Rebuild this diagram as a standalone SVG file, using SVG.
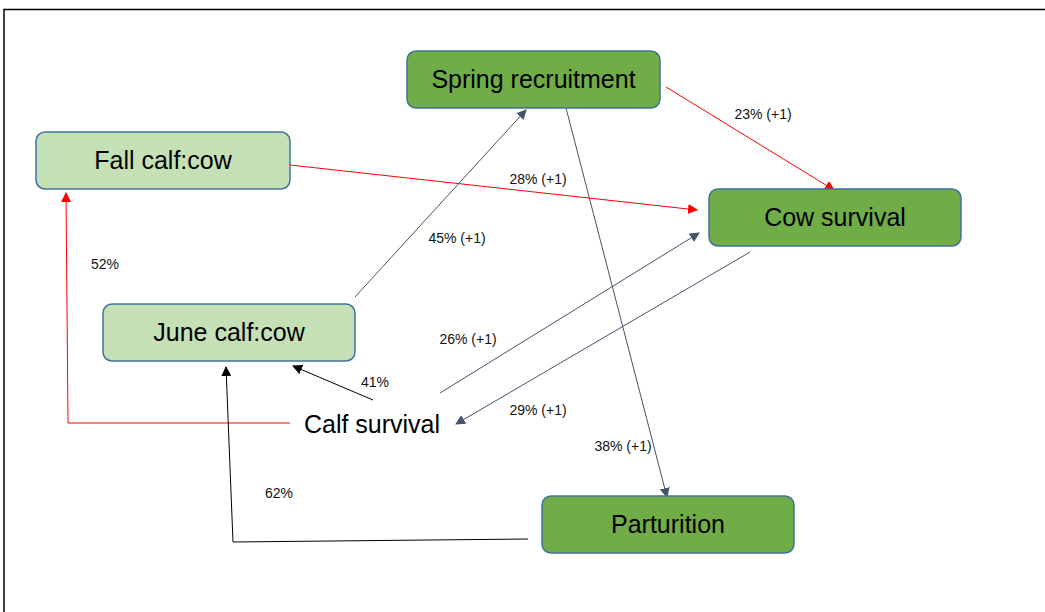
<svg xmlns="http://www.w3.org/2000/svg" width="1045" height="612" viewBox="0 0 1045 612">
<defs>
<style>
.node rect{stroke:#41719c;stroke-width:1.5}
.dark rect{fill:#70ad47}
.light rect{fill:#c5e0b4}
.nt{font-family:"Liberation Sans",Arial,sans-serif;font-size:25px;fill:#000;text-anchor:middle}
.lbl{font-family:"Liberation Sans",Arial,sans-serif;font-size:14px;fill:#111;text-anchor:middle}
.red{stroke:#ff0000;stroke-width:1;fill:none}
.gray{stroke:#44546a;stroke-width:1;fill:none}
.blk{stroke:#000;stroke-width:1;fill:none}
</style>
<marker id="aRed" viewBox="0 0 10 10" refX="9" refY="5" markerWidth="10" markerHeight="10" markerUnits="userSpaceOnUse" orient="auto"><path d="M0,0 L10,5 L0,10 z" fill="#ff0000"/></marker>
<marker id="aGray" viewBox="0 0 10 10" refX="9" refY="5" markerWidth="10" markerHeight="10" markerUnits="userSpaceOnUse" orient="auto"><path d="M0,0 L10,5 L0,10 z" fill="#44546a"/></marker>
<marker id="aBlk" viewBox="0 0 10 10" refX="9" refY="5" markerWidth="10" markerHeight="10" markerUnits="userSpaceOnUse" orient="auto"><path d="M0,0 L10,5 L0,10 z" fill="#000"/></marker>
</defs>
<rect x="0" y="0" width="1045" height="612" fill="#fff"/>
<path d="M4,612 L4,9.5 L1045,9.5" stroke="#000" stroke-width="1.5" fill="none"/>
<g id="connectors">
<line class="red" x1="290" y1="165" x2="697" y2="210" marker-end="url(#aRed)"/>
<line class="red" x1="666" y1="87" x2="834" y2="190" marker-end="url(#aRed)"/>
<line class="gray" x1="355" y1="297" x2="526" y2="110" marker-end="url(#aGray)"/>
<line class="gray" x1="566" y1="108" x2="667" y2="497" marker-end="url(#aGray)"/>
<line class="gray" x1="440" y1="393" x2="699" y2="233" marker-end="url(#aGray)"/>
<line class="gray" x1="750" y1="252" x2="456" y2="424" marker-end="url(#aGray)"/>
<line class="blk" x1="373" y1="400" x2="293" y2="366" marker-end="url(#aBlk)"/>
<polyline class="red" points="290,423 68,423 66,193" marker-end="url(#aRed)"/>
<polyline class="blk" points="528,539 233,542 226,367" marker-end="url(#aBlk)" stroke="#333"/>
</g>
<g id="spring-recruitment" class="node dark"><rect x="407" y="51" width="253" height="57" rx="9"/><text class="nt" x="533.5" y="88">Spring recruitment</text></g>
<g id="fall-calf-cow" class="node light"><rect x="36" y="132" width="254" height="57" rx="9"/><text class="nt" x="163" y="169">Fall calf:cow</text></g>
<g id="cow-survival" class="node dark"><rect x="709" y="189" width="252" height="57" rx="9"/><text class="nt" x="835" y="226">Cow survival</text></g>
<g id="june-calf-cow" class="node light"><rect x="103" y="304" width="252" height="57" rx="9"/><text class="nt" x="229" y="341">June calf:cow</text></g>
<g id="parturition" class="node dark"><rect x="542" y="496" width="252" height="57" rx="9"/><text class="nt" x="668" y="533">Parturition</text></g>
<g id="calf-survival"><text class="nt" x="372" y="433">Calf survival</text></g>
<g id="labels">
<text class="lbl" x="763" y="119">23% (+1)</text>
<text class="lbl" x="538" y="184">28% (+1)</text>
<text class="lbl" x="457" y="243">45% (+1)</text>
<text class="lbl" x="105" y="269">52%</text>
<text class="lbl" x="468" y="344">26% (+1)</text>
<text class="lbl" x="375" y="387">41%</text>
<text class="lbl" x="538" y="415">29% (+1)</text>
<text class="lbl" x="623" y="451">38% (+1)</text>
<text class="lbl" x="279" y="498">62%</text>
</g>
</svg>
